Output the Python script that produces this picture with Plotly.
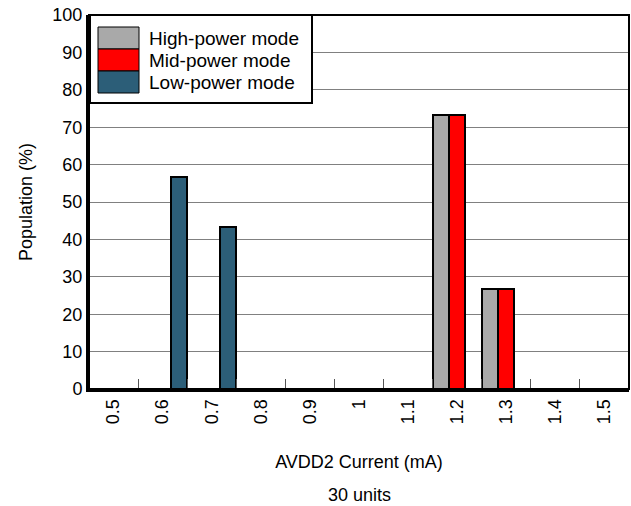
import plotly.graph_objects as go

categories = ["0.5", "0.6", "0.7", "0.8", "0.9", "1", "1.1", "1.2", "1.3", "1.4", "1.5"]
series_names = ["High-power mode", "Mid-power mode", "Low-power mode"]
high_power = [0, 0, 0, 0, 0, 0, 0, 73.33, 26.67, 0, 0]
mid_power = [0, 0, 0, 0, 0, 0, 0, 73.33, 26.67, 0, 0]
low_power = [0, 56.67, 43.33, 0, 0, 0, 0, 0, 0, 0, 0]
series_values = [high_power, mid_power, low_power]
colors = ["#A9A9A9", "#FF0000", "#2C5E78"]

FONT = "Liberation Sans, Arial, sans-serif"

fig = go.Figure()
for name, vals, col in zip(series_names, series_values, colors):
    fig.add_trace(go.Bar(
        x=categories, y=vals, name=name,
        marker=dict(color=col, line=dict(color="black", width=2)),
        showlegend=False,
    ))

W, H = 631, 506
PL, PR, PT, PB = 89, 629, 15, 389
L, R, T, B = PL, W - PR, PT, H - PB
pw, ph = PR - PL, PB - PT

def px_x(x):
    return (x - PL) / pw

def px_y(y):
    return (PB - y) / ph

shapes = []
annotations = []
# legend box
shapes.append(dict(type="rect", xref="paper", yref="paper",
                   x0=px_x(90), x1=px_x(312), y0=px_y(103), y1=px_y(15),
                   line=dict(color="black", width=2), fillcolor="white", layer="above"))
row_tops = [27, 49, 71]
for i, (name, col) in enumerate(zip(series_names, colors)):
    y0 = row_tops[i]
    shapes.append(dict(type="rect", xref="paper", yref="paper",
                       x0=px_x(98), x1=px_x(139), y0=px_y(y0 + 22), y1=px_y(y0),
                       line=dict(color="black", width=1), fillcolor=col, layer="above"))
    annotations.append(dict(xref="paper", yref="paper", x=px_x(147), y=px_y(y0 + 11),
                            text=name, showarrow=False, xanchor="left", yanchor="middle",
                            font=dict(size=19, color="black", family=FONT)))
# plot border
shapes.append(dict(type="rect", xref="paper", yref="paper", x0=0, x1=1, y0=0, y1=1,
                   line=dict(color="black", width=2), layer="above"))

annotations.append(dict(xref="paper", yref="paper", x=px_x(359), y=px_y(495),
                        text="30 units", showarrow=False, xanchor="center", yanchor="middle",
                        font=dict(size=18, color="black", family=FONT)))

fig.update_layout(
    width=W, height=H,
    margin=dict(l=L, r=R, t=T, b=B),
    paper_bgcolor="white", plot_bgcolor="white",
    barmode="group", bargap=0, bargroupgap=0,
    font=dict(family=FONT, size=18, color="black"),
    shapes=shapes, annotations=annotations,
)
fig.update_xaxes(
    type="category", categoryorder="array", categoryarray=categories,
    tickangle=-90, ticks="inside", tickson="boundaries", ticklen=10,
    tickcolor="#555555", tickwidth=1,
    showline=True, linecolor="black", linewidth=3,
    showgrid=False,
    title=dict(text="AVDD2 Current (mA)", standoff=33, font=dict(size=18)),
    tickfont=dict(size=18),
)
fig.update_yaxes(
    range=[0, 100], dtick=10, tick0=0,
    showgrid=True, gridcolor="#808080", gridwidth=1,
    showline=True, linecolor="black", linewidth=3,
    ticks="", zeroline=False, ticklabeloverflow="allow",
    title=dict(text="Population (%)", standoff=16, font=dict(size=18)),
    tickfont=dict(size=18),
)

fig.write_html("out.html", config={"displayModeBar": False},
               post_script="document.body.style.margin='0';")
